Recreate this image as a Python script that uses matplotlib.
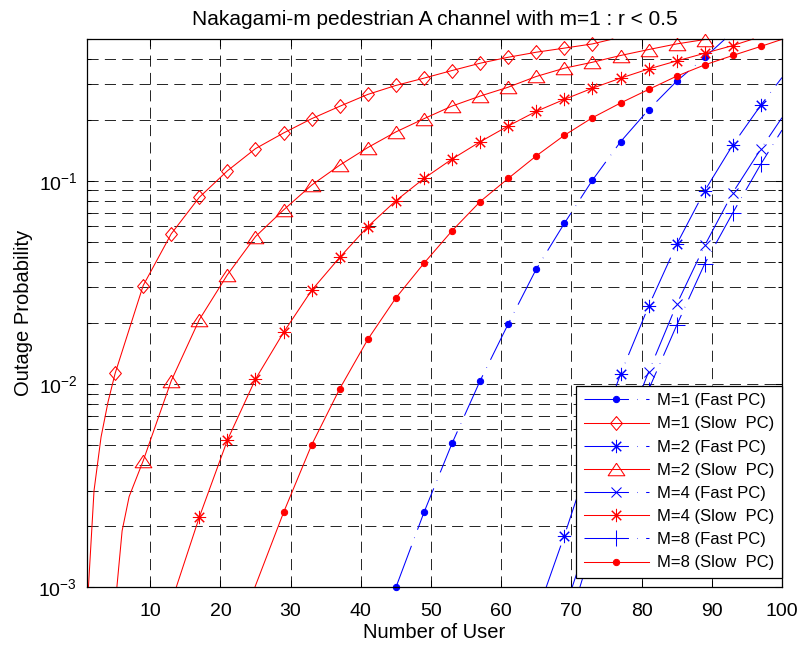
import numpy as np
import matplotlib
matplotlib.use('Agg')
import matplotlib.pyplot as plt
from matplotlib.ticker import FixedLocator, LogLocator, NullLocator

plt.rcParams['font.family'] = ['Liberation Sans', 'DejaVu Sans']
plt.rcParams['mathtext.fontset'] = 'custom'
plt.rcParams['mathtext.rm'] = 'Liberation Sans'
plt.rcParams['mathtext.default'] = 'regular'
plt.rcParams['lines.scale_dashes'] = False

# outage probability vs number of users (fast / slow power control)
users_m1_fast = [45, 49, 53, 57, 61, 65, 69, 73, 77, 81, 85, 89, 91.9]
out_m1_fast = [0.0010, 0.00234, 0.00512, 0.0104, 0.0198, 0.0369, 0.0619,
               0.101, 0.156, 0.2245, 0.310, 0.406, 0.5]

users_m1_slow = [1.2, 2, 3, 4, 5, 9, 13, 17, 21, 25, 29, 33, 37, 41, 45, 49,
                 53, 57, 61, 65, 69, 73, 75.9]
out_m1_slow = [0.001, 0.003, 0.0055, 0.0082, 0.0113, 0.0306, 0.055, 0.0832,
               0.1123, 0.1444, 0.1724, 0.2027, 0.2333, 0.2669, 0.2955, 0.3209,
               0.3499, 0.380, 0.4066, 0.4305, 0.451, 0.473, 0.5]

users_m2_fast = [66.4, 69, 73, 77, 81, 85, 89, 93, 97, 100]
out_m2_fast = [0.001, 0.0018, 0.0047, 0.0112, 0.0242, 0.0488, 0.0896,
               0.1507, 0.2365, 0.323]

users_m2_slow = [5.25, 6, 7, 9, 13, 17, 21, 25, 29, 33, 37, 41, 45, 49, 53,
                 57, 61, 65, 69, 73, 77, 81, 85, 89]
out_m2_slow = [0.001, 0.0019, 0.0028, 0.0042, 0.0104, 0.0208, 0.0346, 0.0533,
               0.0721, 0.0955, 0.1197, 0.1462, 0.1745, 0.2027, 0.2339, 0.2619,
               0.2897, 0.3271, 0.3592, 0.3843, 0.4148, 0.4437, 0.473, 0.497]

users_m4_fast = [70.1, 73, 77, 81, 85, 89, 93, 97, 100]
out_m4_fast = [0.001, 0.0020, 0.0051, 0.0115, 0.0247, 0.0482, 0.0877,
               0.1439, 0.205]

users_m4_slow = [13.7, 17, 21, 25, 29, 33, 37, 41, 45, 49, 53, 57, 61, 65,
                 69, 73, 77, 81, 85, 89, 93, 95.9]
out_m4_slow = [0.001, 0.00222, 0.00531, 0.0106, 0.018, 0.029, 0.0421, 0.0597,
               0.080, 0.103, 0.1283, 0.156, 0.1866, 0.2203, 0.2523, 0.2864,
               0.3208, 0.3561, 0.390, 0.4255, 0.4645, 0.5]

users_m8_fast = [71.2, 73, 77, 81, 85, 89, 93, 97, 100]
out_m8_fast = [0.001, 0.0016, 0.0042, 0.0094, 0.0195, 0.0392, 0.0698,
               0.1213, 0.178]

users_m8_slow = [24.9, 29, 33, 37, 41, 45, 49, 53, 57, 61, 65, 69, 73, 77,
                 81, 85, 89, 93, 97, 100]
out_m8_slow = [0.001, 0.00234, 0.00503, 0.0095, 0.01663, 0.0266, 0.0394,
               0.0569, 0.0792, 0.103, 0.133, 0.1679, 0.205, 0.2421, 0.2823,
               0.3282, 0.373, 0.415, 0.460, 0.498]

dashdot = (0, (32, 6, 0.4, 6))
diamond = [(0, 1), (0.85, 0), (0, -1), (-0.85, 0), (0, 1)]
triangle = [(0, 0.75), (1, -0.75), (-1, -0.75), (0, 0.75)]
asterisk = (8, 2, 0)

series = [
    (users_m1_fast, out_m1_fast, 'b', dashdot, 'o', 4.5, 'M=1 (Fast PC)'),
    (users_m1_slow, out_m1_slow, 'r', '-', diamond, 10, 'M=1 (Slow  PC)'),
    (users_m2_fast, out_m2_fast, 'b', dashdot, asterisk, 9.5, 'M=2 (Fast PC)'),
    (users_m2_slow, out_m2_slow, 'r', '-', triangle, 12, 'M=2 (Slow  PC)'),
    (users_m4_fast, out_m4_fast, 'b', dashdot, 'x', 7, 'M=4 (Fast PC)'),
    (users_m4_slow, out_m4_slow, 'r', '-', asterisk, 9.5, 'M=4 (Slow  PC)'),
    (users_m8_fast, out_m8_fast, 'b', dashdot, '+', 11, 'M=8 (Fast PC)'),
    (users_m8_slow, out_m8_slow, 'r', '-', 'o', 4.5, 'M=8 (Slow  PC)'),
]

fig = plt.figure(figsize=(8.02, 6.47), dpi=100)
ax = fig.add_axes([0.1085, 0.092, 0.8665, 0.8477])

for x, y, c, ls, mk, ms, lab in series:
    x = np.asarray(x, dtype=float)
    # markers sit on every 4th user count (1, 5, 9, ...)
    marks = (x == np.round(x)) & ((np.round(x) - 1) % 4 == 0)
    filled = mk == 'o'
    ax.plot(x, y, color=c, ls=ls, lw=0.75, marker=mk, ms=ms,
            markevery=marks, mfc=c if filled else 'none', mec=c,
            mew=0.75, label=lab, clip_on=False)

ax.set_yscale('log')
ax.set_xlim(1, 100)
ax.set_ylim(1e-3, 0.5)
ax.xaxis.set_major_locator(FixedLocator(np.arange(10, 101, 10)))
ax.xaxis.set_minor_locator(NullLocator())
ax.yaxis.set_major_locator(LogLocator(base=10))
ax.yaxis.set_minor_locator(LogLocator(base=10, subs=np.arange(2, 10)))

grid_ls = (0, (8, 4.5))
ax.grid(True, which='major', axis='x', color='k', ls=grid_ls, lw=0.6)
ax.grid(True, which='both', axis='y', color='k', ls=grid_ls, lw=0.6)

ax.tick_params(which='both', direction='in', top=True, right=True,
               labelsize=14, width=0.75, color='k')
ax.tick_params(which='major', length=5)
ax.tick_params(axis='x', which='major', pad=11)
ax.tick_params(axis='y', which='major', pad=7)
ax.tick_params(which='minor', length=3)
for s in ax.spines.values():
    s.set_linewidth(0.9)

ax.set_xlabel('Number of User', fontsize=14.5, labelpad=2)
ax.set_ylabel('Outage Probability', fontsize=14.5, labelpad=4)
ax.set_title('Nakagami-m pedestrian A channel with m=1 : r < 0.5',
             fontsize=15, pad=10)

leg = ax.legend(loc='lower right', bbox_to_anchor=(1.0, 0.0173),
                borderaxespad=0, fontsize=12, handlelength=3.9,
                handletextpad=0.5, labelspacing=0.49, borderpad=0.45,
                fancybox=False, framealpha=1, edgecolor='k')
leg.get_frame().set_linewidth(0.9)

fig.savefig('out.png', dpi=100)
